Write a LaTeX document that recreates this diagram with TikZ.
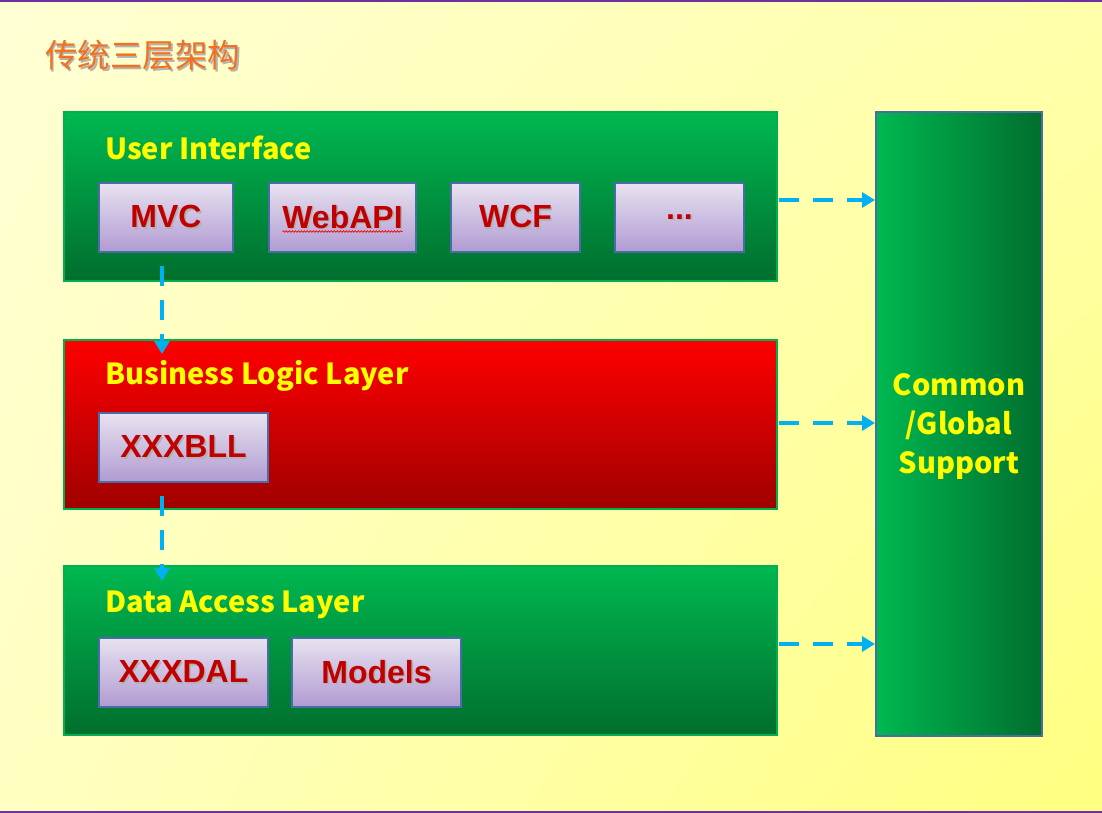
\documentclass[tikz,border=0pt]{standalone}
\usepackage{fontspec}
\setmainfont{Liberation Sans}
\newfontfamily\cjk{Noto Sans CJK SC}
\usetikzlibrary{arrows.meta,decorations.pathmorphing,calc,shadings}
\definecolor{bgA}{HTML}{FFFFD4}
\definecolor{bgB}{HTML}{FFFFAA}
\definecolor{bgC}{HTML}{FFFFC2}
\definecolor{bgD}{HTML}{FFFF80}
\definecolor{frame}{HTML}{7030A0}
\definecolor{gtop}{HTML}{00B850}
\definecolor{gbot}{HTML}{006E2E}
\definecolor{gborder}{HTML}{00B050}
\definecolor{rtop}{HTML}{FF0000}
\definecolor{rbot}{HTML}{A00000}
\definecolor{itop}{HTML}{E8E2F0}
\definecolor{ibot}{HTML}{B09BD2}
\definecolor{iborder}{HTML}{4A6CA6}
\definecolor{itext}{HTML}{C00000}
\definecolor{arrowc}{HTML}{00B0F0}
\definecolor{titlec}{HTML}{F2701E}
\definecolor{ylw}{HTML}{FFFF00}
\newcommand\shd[2]{\makebox[0pt][l]{\kern1.6pt\raisebox{-1.6pt}{\textcolor{black!30}{#2}}}\textcolor{#1}{#2}}
\begin{document}
\begin{tikzpicture}[x=1pt,y=-1pt,
  layer/.style={draw=gborder, line width=2pt, anchor=north west, inner sep=0pt,
    minimum width=713pt, minimum height=169pt},
  greenlayer/.style={layer, top color=gtop, bottom color=gbot},
  redlayer/.style={layer, top color=rtop, bottom color=rbot},
  ibox/.style={draw=iborder, line width=2pt, anchor=north west, inner sep=0pt,
    top color=itop, bottom color=ibot, minimum height=69pt,
    font=\bfseries\fontsize{32}{36}\selectfont},
  lbl/.style={anchor=base west, inner sep=0pt, text=ylw,
    font=\cjk\bfseries\fontsize{29}{34}\selectfont},
  darrow/.style={draw=arrowc, line width=4.5pt, dash pattern=on 20pt off 14pt,
    -{Triangle[length=13pt,width=15pt]}}]
\useasboundingbox (0,0) rectangle (1102,813);
\shade[upper left=bgA, upper right=bgB, lower left=bgC, lower right=bgD] (0,0) rectangle (1102,813);
\draw[frame, line width=2pt] (0,1) -- (1102,1);
\draw[frame, line width=2pt] (0,812) -- (1102,812);

\node[anchor=base west, inner sep=0pt, font=\cjk\fontsize{32.5}{36}\selectfont] (title) at (45,68) {\shd{titlec}{传统三层架构}};

% layers
\node[greenlayer] (ui) at (63,111) {};
\node[redlayer] (bll) at (63,339) {};
\node[greenlayer] (dal) at (63,565) {};
\node[draw=iborder, line width=2pt, anchor=north west, inner sep=0pt,
  left color=gtop, right color=gbot, minimum width=166pt, minimum height=624pt] (cgs) at (875,111) {};
\node[align=center, text=ylw, font=\cjk\bfseries\fontsize{29}{39}\selectfont] (cgstext) at ($(cgs.center)+(0,3)$) {Common\\/Global\\Support};

% layer labels
\node[lbl] (uil) at (105,160) {User Interface};
\node[lbl] (blll) at (105,384) {Business Logic Layer};
\node[lbl] (dall) at (105,612) {Data Access Layer};

% inner boxes
\node[ibox, minimum width=134pt] (mvc) at (98,182) {\shd{itext}{MVC}};
\node[ibox, minimum width=147pt] (webapi) at (268,182) {\shd{itext}{WebAPI}};
\node[ibox, minimum width=129pt] (wcf) at (450,182) {\shd{itext}{WCF}};
\node[ibox, minimum width=129pt] (more) at (614,182) {\shd{itext}{...}};
\node[ibox, minimum width=169pt] (xbll) at (98,412) {\shd{itext}{XXXBLL}};
\node[ibox, minimum width=169pt] (xdal) at (98,637) {\shd{itext}{XXXDAL}};
\node[ibox, minimum width=169pt] (models) at (291,637) {\shd{itext}{Models}};

\draw[red, line width=0.7pt, decorate, decoration={snake, amplitude=0.8pt, segment length=3pt}]
  ($(webapi.center)+(-60,14)$) -- ($(webapi.center)+(60,14)$);

% arrows
\coordinate (a1) at (779,200);
\coordinate (a2) at (779,423);
\coordinate (a3) at (779,644);
\draw[darrow] (a1) -- (a1 -| cgs.west);
\draw[darrow] (a2) -- (a2 -| cgs.west);
\draw[darrow] (a3) -- (a3 -| cgs.west);
\coordinate (v1) at ($(mvc.south)+(-4,13)$);
\coordinate (v1e) at ($(bll.north -| v1)+(0,15)$);
\draw[darrow] (v1) -- (v1e);
\coordinate (v2) at ($(xbll.south -| v1)+(0,13)$);
\coordinate (v2e) at ($(dal.north -| v1)+(0,16)$);
\draw[darrow] (v2) -- (v2e);
\end{tikzpicture}
\end{document}
